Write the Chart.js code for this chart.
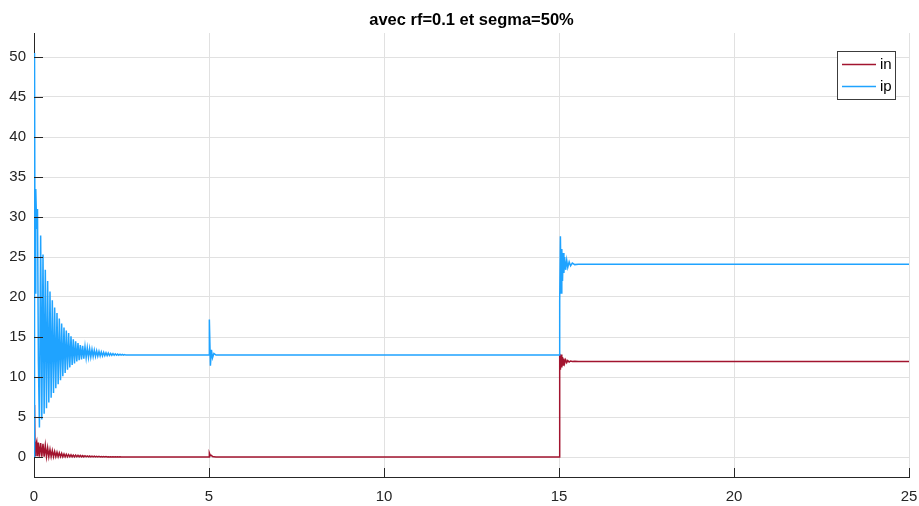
<!DOCTYPE html>
<html>
<head>
<meta charset="utf-8">
<script src="https://cdn.jsdelivr.net/npm/chart.js@4.4.0/dist/chart.umd.min.js"></script>
<style>
  html, body { margin: 0; padding: 0; background: #fff; }
  canvas { display: block; }
</style>
</head>
<body>
<canvas id="chart" width="919" height="506"></canvas>
<script>
// chart data
const chartTitle = 'avec rf=0.1 et segma=50%';
const seriesNames = ['in', 'ip'];
const xTicks = [0, 5, 10, 15, 20, 25];
const yTicks = [0, 5, 10, 15, 20, 25, 30, 35, 40, 45, 50];

const time = [
    0, 0.015, 0.03, 0.05, 0.077, 0.1, 0.125, 0.155,
    0.19, 0.223, 0.257, 0.29, 0.323, 0.357, 0.39, 0.423, 0.457, 0.49,
    0.523, 0.557, 0.59, 0.623, 0.657, 0.69, 0.723, 0.757, 0.79, 0.823,
    0.857, 0.89, 0.923, 0.957, 0.99, 1.023, 1.057, 1.09, 1.123, 1.157,
    1.19, 1.223, 1.257, 1.29, 1.323, 1.357, 1.39, 1.423, 1.457, 1.49,
    1.523, 1.557, 1.59, 1.623, 1.657, 1.69, 1.723, 1.757, 1.79, 1.823,
    1.857, 1.89, 1.923, 1.957, 1.99, 2.023, 2.057, 2.09, 2.123, 2.157,
    2.19, 2.223, 2.257, 2.29, 2.323, 2.357, 2.39, 2.423, 2.457, 2.49,
    2.523, 2.557, 2.59, 2.623,
    2.8, 5.0, 5.01, 5.04, 5.07, 5.1, 5.14, 5.2,
    15.0, 15.02, 15.04, 15.06, 15.08, 15.1, 15.12, 15.14, 15.16, 15.19,
    15.22, 15.25, 15.29, 15.33, 15.38, 15.45, 15.55, 25
];

const inValues = [
    0, 6.5, 0.2, 1.5, 1.95, 0.1, 1.8, 0.05,
    1.75, 0.05, 1.65, 0.05, 1.45, 0.05, 1.15, 0.05, 0.95, 0.05,
    0.82, 0.04, 0.7, 0.04, 0.6, 0.04, 0.52, 0.04, 0.45, 0.03,
    0.39, 0.03, 0.35, 0.03, 0.31, 0.03, 0.28, 0.03, 0.25, 0.02,
    0.23, 0.02, 0.21, 0.02, 0.19, 0.02, 0.17, 0.02, 0.15, 0.02,
    0.13, 0.01, 0.12, 0.01, 0.11, 0.01, 0.1, 0.01, 0.09, 0.01,
    0.08, 0.01, 0.07, 0.01, 0.06, 0.01, 0.05, 0.01, 0.04, 0,
    0.04, 0, 0.03, 0, 0.03, 0, 0.02, 0, 0.02, 0,
    0.01, 0, 0.01, 0,
    0, 0, 0.5, 0.15, 0.2, 0.05, 0.03, 0,
    0, 12.9, 10.9, 12.8, 11.2, 12.5, 11.5, 12.3, 11.7, 12.15,
    11.8, 12.05, 11.88, 12.0, 11.93, 11.96, 11.95, 11.95
];

const ipValues = [
    0, 50.5, 20.5, 33.5, 28.5, 31, 12, 3.7,
    27.7, 4.7, 25.3, 5.4, 23.4, 6.1, 22.0, 6.8, 20.7, 7.4,
    19.6, 8.0, 18.7, 8.6, 18.0, 9.1, 17.3, 9.6, 16.7, 10.1,
    16.2, 10.5, 15.8, 10.9, 15.5, 11.2, 15.1, 11.5, 14.7, 11.7,
    14.45, 11.95, 14.25, 12.1, 14.0, 12.2, 13.9, 12.3, 13.8, 12.4,
    13.65, 12.45, 13.55, 12.5, 13.45, 12.55, 13.35, 12.58, 13.27, 12.6,
    13.2, 12.62, 13.14, 12.64, 13.08, 12.66, 13.03, 12.68, 12.99, 12.69,
    12.95, 12.7, 12.92, 12.71, 12.89, 12.72, 12.86, 12.72, 12.84, 12.73,
    12.82, 12.73, 12.8, 12.74,
    12.75, 12.75, 17.2, 11.4, 13.4, 12.4, 12.95, 12.75,
    12.75, 19.5, 27.6, 20.5, 26.0, 22.0, 25.5, 23.0, 25.0, 23.4,
    24.6, 23.7, 24.4, 23.9, 24.25, 24.05, 24.1, 24.1
];

const axisColor = '#262626';
const gridColor = '#e1e1e1';
const fontFamily = '"Liberation Sans", Arial, Helvetica, sans-serif';

// inward ticks, title over the plot area and the boxed legend (MATLAB look)
const matlabDecor = {
    id: 'matlabDecor',
    afterDraw(chart) {
        const ctx = chart.ctx;
        const ca = chart.chartArea;
        const xs = chart.scales.x;
        const ys = chart.scales.y;
        ctx.save();

        ctx.strokeStyle = axisColor;
        ctx.lineWidth = 1;
        ctx.beginPath();
        yTicks.forEach(v => {
            const y = Math.round(ys.getPixelForValue(v)) + 0.5;
            ctx.moveTo(ca.left, y);
            ctx.lineTo(ca.left + 9, y);
        });
        xTicks.forEach(v => {
            const x = Math.round(xs.getPixelForValue(v)) + 0.5;
            ctx.moveTo(x, ca.bottom);
            ctx.lineTo(x, ca.bottom - 9);
        });
        ctx.stroke();

        ctx.fillStyle = '#000';
        ctx.font = 'bold 16.5px ' + fontFamily;
        ctx.textAlign = 'center';
        ctx.textBaseline = 'alphabetic';
        ctx.fillText(chartTitle, (ca.left + ca.right) / 2, 24.5);

        // legend box
        const bw = 58, bh = 48;
        const bx = Math.round(ca.right - 14 - bw);
        const by = Math.round(ca.top + 18);
        ctx.fillStyle = '#fff';
        ctx.fillRect(bx, by, bw, bh);
        ctx.strokeStyle = '#3c3c3c';
        ctx.lineWidth = 1;
        ctx.strokeRect(bx + 0.5, by + 0.5, bw, bh);
        ctx.font = '15px ' + fontFamily;
        ctx.textAlign = 'left';
        ctx.textBaseline = 'middle';
        chart.data.datasets.forEach((ds, i) => {
            const ly = by + 13.5 + i * 22;
            ctx.strokeStyle = ds.borderColor;
            ctx.lineWidth = 1.3;
            ctx.beginPath();
            ctx.moveTo(bx + 5, ly);
            ctx.lineTo(bx + 39, ly);
            ctx.stroke();
            ctx.fillStyle = '#000';
            ctx.fillText(ds.label, bx + 43, ly);
        });
        ctx.restore();
    }
};

const toPoints = vals => vals.map((v, i) => ({ x: time[i], y: v }));

new Chart(document.getElementById('chart'), {
    type: 'line',
    data: {
        datasets: [
            {
                label: seriesNames[0],
                data: toPoints(inValues),
                borderColor: '#a2142f',
                borderWidth: 1.5,
                order: 2
            },
            {
                label: seriesNames[1],
                data: toPoints(ipValues),
                borderColor: '#1fa3ff',
                borderWidth: 1.5,
                order: 1
            }
        ]
    },
    options: {
        responsive: false,
        animation: false,
        events: [],
        layout: { padding: { top: 33, right: 10, left: 0, bottom: 0 } },
        elements: {
            point: { radius: 0 },
            line: { tension: 0 }
        },
        plugins: {
            legend: { display: false },
            title: { display: false },
            tooltip: { enabled: false }
        },
        scales: {
            x: {
                type: 'linear',
                min: 0,
                max: 25,
                afterBuildTicks: s => { s.ticks = xTicks.map(v => ({ value: v })); },
                afterFit: s => {
                    s.height = 29;
                    s.paddingLeft = 0;
                    s.paddingRight = 0;
                },
                grid: { color: gridColor, drawTicks: false },
                border: { display: true, color: axisColor, width: 1 },
                ticks: {
                    padding: 11,
                    color: axisColor,
                    maxRotation: 0,
                    autoSkip: false,
                    font: { family: fontFamily, size: 15 }
                }
            },
            y: {
                type: 'linear',
                min: -2.5,
                max: 53,
                afterBuildTicks: s => { s.ticks = yTicks.map(v => ({ value: v })); },
                afterFit: s => {
                    s.width = 34;
                    s.paddingTop = 0;
                    s.paddingBottom = 0;
                },
                grid: { color: gridColor, drawTicks: false },
                border: { display: true, color: axisColor, width: 1 },
                ticks: {
                    padding: 8,
                    color: axisColor,
                    font: { family: fontFamily, size: 15 }
                }
            }
        }
    },
    plugins: [matlabDecor]
});
</script>
</body>
</html>
